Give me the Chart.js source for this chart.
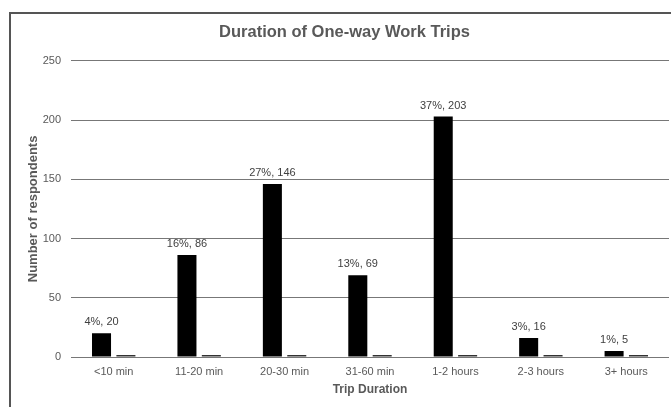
<!DOCTYPE html>
<html>
<head>
<meta charset="utf-8">
<script src="https://cdn.jsdelivr.net/npm/chart.js@4.4.1/dist/chart.umd.min.js"></script>
<style>
    body { margin: 0; background: #fff; }
    #wrap { position: relative; width: 671px; height: 407px; }
    #frame {
        position: absolute; left: 9px; top: 12px; right: 0; bottom: 0;
        border-left: 2px solid #555; border-top: 2px solid #555;
    }
    canvas { position: absolute; left: 0; top: 0; }
</style>
</head>
<body>
<div id="wrap">
    <div id="frame"></div>
    <canvas id="myChart" width="671" height="407"></canvas>
</div>
<script>
'use strict'

const durations = ['<10 min', '11-20 min', '20-30 min', '31-60 min', '1-2 hours', '2-3 hours', '3+ hours'];
const respondents = [20, 86, 146, 69, 203, 16, 5];
const percents = [4, 16, 27, 13, 37, 3, 1];
const emptySeries = [0, 0, 0, 0, 0, 0, 0];
const yTicks = [0, 50, 100, 150, 200, 250];

// writes "pct%, count" above every black bar
const barLabels = {
    id: 'barLabels',
    afterDatasetsDraw(chart) {
        const ctx = chart.ctx;
        const meta = chart.getDatasetMeta(0);
        ctx.save();
        ctx.font = '11px "Liberation Sans", Arial, sans-serif';
        ctx.fillStyle = '#404040';
        ctx.textAlign = 'center';
        ctx.textBaseline = 'middle';
        for (let i = 0; i < meta.data.length; i++) {
            let bar = meta.data[i];
            ctx.fillText(`${percents[i]}%, ${respondents[i]}`, bar.x, bar.y - 11);
        }
        ctx.restore();
    }
};

const ctx = document.getElementById('myChart').getContext('2d');
const myChart = new Chart(ctx, {
    type: 'bar',
    data: {
        labels: durations,
        datasets: [{
            label: 'Respondents',
            data: respondents,
            backgroundColor: '#000',
            categoryPercentage: 0.571,
            barPercentage: 0.78
        }, {
            label: 'Other',
            data: emptySeries,
            backgroundColor: '#333',
            minBarLength: 2,
            categoryPercentage: 0.571,
            barPercentage: 0.78
        }]
    },
    options: {
        responsive: false,
        animation: false,
        layout: {
            padding: { left: 20, right: 2, top: 13, bottom: 5 }
        },
        plugins: {
            legend: { display: false },
            tooltip: { enabled: false },
            title: {
                display: true,
                text: 'Duration of One-way Work Trips',
                color: '#595959',
                font: { family: '"Liberation Sans", Arial, sans-serif', size: 16.5, weight: 'bold' },
                padding: { top: 10, bottom: 18 }
            }
        },
        scales: {
            x: {
                grid: { display: false, drawTicks: false },
                border: { display: false },
                ticks: {
                    color: '#595959',
                    padding: 8,
                    font: { family: '"Liberation Sans", Arial, sans-serif', size: 11 }
                },
                title: {
                    display: true,
                    text: 'Trip Duration',
                    color: '#595959',
                    padding: { top: 4, bottom: 5 },
                    font: { family: '"Liberation Sans", Arial, sans-serif', size: 12, weight: 'bold' }
                },
                afterFit(scale) { scale.height = 45; }
            },
            y: {
                min: 0,
                max: 250,
                afterBuildTicks(scale) {
                    scale.ticks = yTicks.map(v => ({ value: v }));
                },
                grid: { color: '#777', lineWidth: 1, drawTicks: false },
                border: { display: false },
                ticks: {
                    color: '#595959',
                    padding: 10,
                    font: { family: '"Liberation Sans", Arial, sans-serif', size: 11 }
                },
                title: {
                    display: true,
                    text: 'Number of respondents',
                    color: '#595959',
                    padding: { top: 6, bottom: 4 },
                    font: { family: '"Liberation Sans", Arial, sans-serif', size: 13, weight: 'bold' }
                },
                afterFit(scale) { scale.width = 51; }
            }
        }
    },
    plugins: [barLabels]
});
</script>
</body>
</html>
